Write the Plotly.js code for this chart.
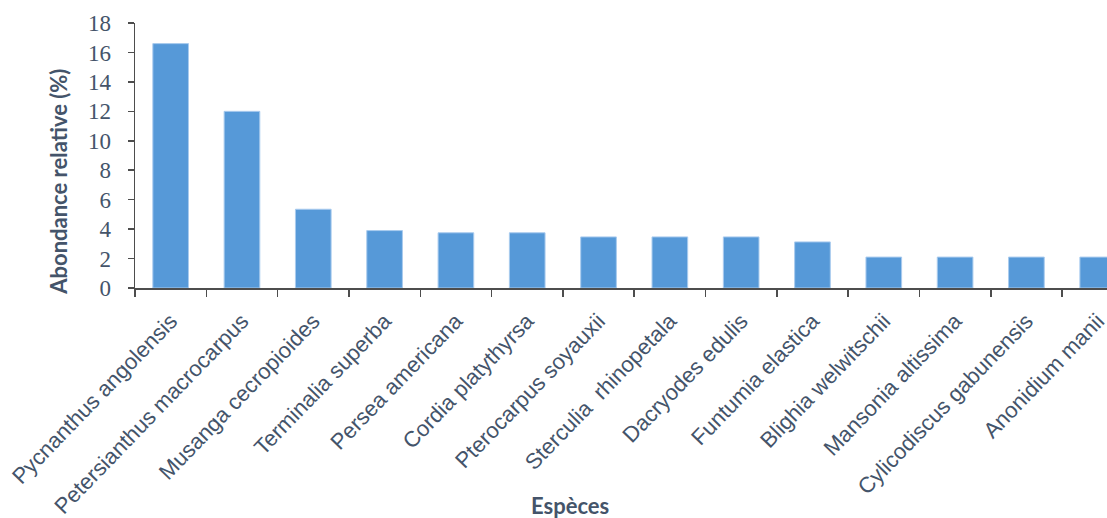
<!DOCTYPE html>
<html>
<head>
<meta charset="utf-8">
<script src="https://cdn.plot.ly/plotly-3.0.1.min.js"></script>
<style>html,body{margin:0;padding:0;background:#fff;}#chart{width:1107px;height:518px;}</style>
</head>
<body>
<div id="chart"></div>
<script>
const species = [
  "Pycnanthus angolensis",
  "Petersianthus macrocarpus",
  "Musanga cecropioides",
  "Terminalia superba",
  "Persea americana",
  "Cordia platythyrsa",
  "Pterocarpus soyauxii",
  "Sterculia  rhinopetala",
  "Dacryodes edulis",
  "Funtumia elastica",
  "Blighia welwitschii",
  "Mansonia altissima",
  "Cylicodiscus gabunensis",
  "Anonidium manii"
];
const abondance = [16.6, 12.0, 5.35, 3.9, 3.75, 3.75, 3.47, 3.47, 3.47, 3.13, 2.1, 2.1, 2.1, 2.1];
const yTicks = [0, 2, 4, 6, 8, 10, 12, 14, 16, 18];

const textColor = "#44546a";
const axisColor = "#4d4d4d";

const trace = {
  type: "bar",
  x: species,
  y: abondance,
  width: 0.5,
  marker: {color: "#5699d8", line: {color: "#a9cbee", width: 1}},
  hoverinfo: "x+y"
};

const layout = {
  width: 1107,
  height: 518,
  margin: {l: 135, r: 0, t: 23, b: 230},
  paper_bgcolor: "#ffffff",
  plot_bgcolor: "#ffffff",
  showlegend: false,
  bargap: 0.5,
  xaxis: {
    type: "category",
    range: [-0.5, 13.13],
    tickson: "boundaries",
    ticks: "outside",
    ticklen: 7,
    tickcolor: axisColor,
    tickwidth: 1.5,
    showline: true,
    linecolor: axisColor,
    linewidth: 1.5,
    showgrid: false,
    tickangle: -46,
    ticklabelstandoff: 10,
    tickfont: {family: "Liberation Sans, Arial, sans-serif", size: 22, color: textColor},
    fixedrange: true
  },
  yaxis: {
    range: [0, 18],
    tickvals: yTicks,
    ticktext: yTicks.map(String),
    ticks: "outside",
    ticklen: 6,
    tickcolor: axisColor,
    tickwidth: 1.5,
    showline: true,
    linecolor: axisColor,
    linewidth: 1.5,
    showgrid: false,
    zeroline: false,
    ticklabelstandoff: 12,
    tickfont: {family: "Liberation Serif, Times New Roman, serif", size: 23, color: textColor},
    fixedrange: true
  },
  annotations: [
    {
      text: "<b>Abondance relative (%)</b>",
      xref: "paper", yref: "paper",
      x: -0.0795, y: 0.40,
      xanchor: "center", yanchor: "middle",
      textangle: -90,
      showarrow: false,
      font: {family: "Lato, Open Sans, sans-serif", size: 22, color: textColor}
    },
    {
      text: "<b>Espèces</b>",
      xref: "paper", yref: "paper",
      x: 0.448, y: -0.82,
      xanchor: "center", yanchor: "middle",
      showarrow: false,
      font: {family: "Lato, Open Sans, sans-serif", size: 22, color: textColor}
    }
  ]
};

Plotly.newPlot("chart", [trace], layout, {displayModeBar: false, staticPlot: true});
</script>
</body>
</html>
